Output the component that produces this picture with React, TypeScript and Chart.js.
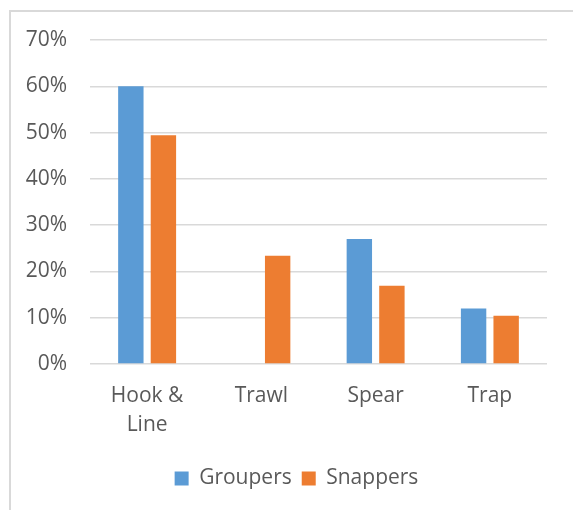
import React, { useEffect, useRef } from "react";
import { Chart, registerables } from "chart.js";

Chart.register(...registerables);

const categories: (string | string[])[] = [["Hook &", "Line"], "Trawl", "Spear", "Trap"];
const groupers = [60, 0, 27, 12];
const snappers = [49.4, 23.4, 16.9, 10.4];
const yTicks = [0, 10, 20, 30, 40, 50, 60, 70];

const FONT = "'Open Sans', 'Noto Sans', sans-serif";
const TEXT = "#595959";
const GRID = "#d9d9d9";

// Nudges the bottom legend to the right so it sits centred under the plot.
const legendShift = {
  id: "legendShift",
  afterLayout(chart: any) {
    const lg = chart.legend;
    if (lg) {
      lg.left += 13;
      lg.right += 13;
    }
  },
};

export default function App() {
  const ref = useRef<HTMLCanvasElement | null>(null);

  useEffect(() => {
    if (!ref.current) return;
    const chart = new Chart(ref.current, {
      type: "bar",
      data: {
        labels: categories,
        datasets: [
          {
            label: "Groupers",
            data: groupers,
            backgroundColor: "#5B9BD5",
            borderWidth: 0,
            barPercentage: 0.78,
            categoryPercentage: 0.57,
          },
          {
            label: "Snappers",
            data: snappers,
            backgroundColor: "#ED7D31",
            borderWidth: 0,
            barPercentage: 0.78,
            categoryPercentage: 0.57,
          },
        ],
      },
      options: {
        responsive: false,
        animation: false,
        layout: { padding: { left: 20, right: 26, top: 40, bottom: 11 } },
        plugins: {
          tooltip: { enabled: false },
          legend: {
            position: "bottom",
            labels: {
              boxWidth: 14,
              boxHeight: 14,
              padding: 10,
              color: TEXT,
              font: { family: FONT, size: 21 },
            },
          },
        },
        scales: {
          x: {
            grid: { display: false },
            border: { display: false },
            ticks: {
              color: TEXT,
              padding: 10,
              maxRotation: 0,
              font: { family: FONT, size: 21, lineHeight: 1.38 },
            },
            afterFit: (s: any) => {
              s.height = 94;
            },
          },
          y: {
            min: 0,
            max: 70,
            afterBuildTicks: (s: any) => {
              s.ticks = yTicks.map((v) => ({ value: v }));
            },
            grid: { color: GRID, lineWidth: 1.5, drawTicks: false },
            border: { display: false },
            ticks: {
              color: TEXT,
              padding: 23,
              font: { family: FONT, size: 21 },
              callback: (v: any) => `${v}%`,
            },
            afterFit: (s: any) => {
              s.width = 70;
            },
          },
        },
      },
      plugins: [legendShift],
    });
    return () => chart.destroy();
  }, []);

  return (
    <div style={{ position: "fixed", left: 0, top: 0, width: 573, height: 510, background: "#fff", overflow: "hidden" }}>
      <div
        style={{
          position: "absolute",
          left: 9,
          top: 10,
          width: 600,
          height: 540,
          borderTop: `2px solid ${GRID}`,
          borderLeft: `2px solid ${GRID}`,
          boxSizing: "border-box",
        }}
      />
      <canvas ref={ref} width={573} height={510} style={{ position: "absolute", left: 0, top: 0 }} />
    </div>
  );
}
